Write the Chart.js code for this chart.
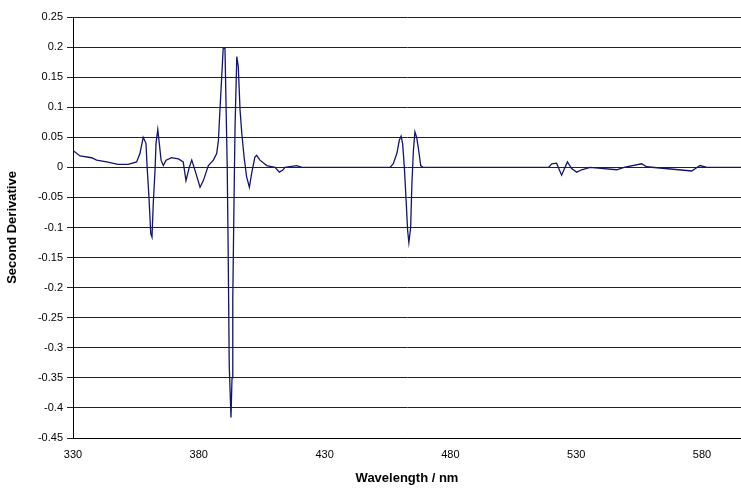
<!DOCTYPE html>
<html>
<head>
<meta charset="utf-8">
<script src="https://cdn.jsdelivr.net/npm/chart.js@4.4.0/dist/chart.umd.min.js"></script>
<style>
  html, body { margin: 0; padding: 0; background: #fff; }
  #wrap { width: 741px; height: 490px; position: relative; }
</style>
</head>
<body>
<div id="wrap"><canvas id="spectrum"></canvas></div>
<script>
// Wavelength (nm) and second derivative values
const wavelengths = [
  330.0, 332.8, 337.4, 339.4, 343.4, 347.9, 351.9, 355.3, 356.6, 357.9,
  359.0, 359.5, 360.2, 360.9, 361.4, 361.9, 362.6, 363.0, 363.7, 364.3,
  365.0, 365.9, 367.0, 369.2, 371.9, 373.8, 374.9, 376.2, 377.2, 378.5,
  380.5, 381.8, 383.8, 385.8, 387.1, 387.8, 388.4, 389.1, 389.7, 390.4,
  390.8, 391.3, 391.7, 392.1, 392.8, 393.2, 393.5, 394.0, 394.4, 395.1,
  395.7, 396.4, 397.1, 398.0, 399.0, 400.1, 401.0, 402.3, 403.0, 404.3,
  407.0, 410.3, 412.0, 413.3, 414.3, 418.9, 421.0, 456.0, 457.3, 458.7,
  459.7, 460.4, 461.0, 461.7, 462.4, 463.0, 463.5, 464.2, 464.7, 465.3,
  465.9, 466.6, 467.4, 468.2, 469.0, 519.0, 520.3, 522.2, 524.2, 526.5,
  528.2, 530.2, 532.2, 535.5, 546.1, 549.0, 556.0, 558.0, 575.9, 579.2,
  582.0, 595.5
];
const secondDerivative = [
  0.028, 0.019, 0.016, 0.012, 0.009, 0.005, 0.005, 0.009, 0.023, 0.050,
  0.040, -0.002, -0.050, -0.110, -0.116, -0.060, -0.005, 0.040, 0.063, 0.040,
  0.012, 0.003, 0.012, 0.016, 0.014, 0.009, -0.022, 0.000, 0.012, -0.005,
  -0.033, -0.022, 0.003, 0.012, 0.023, 0.045, 0.095, 0.150, 0.198, 0.198,
  0.110, 0.000, -0.150, -0.330, -0.416, -0.350, -0.220, -0.055, 0.067, 0.184,
  0.167, 0.095, 0.056, 0.017, -0.016, -0.033, -0.010, 0.017, 0.020, 0.012,
  0.003, 0.000, -0.008, -0.005, 0.000, 0.003, 0.000, 0.000, 0.006, 0.023,
  0.045, 0.052, 0.040, 0.000, -0.055, -0.105, -0.125, -0.100, -0.027, 0.028,
  0.059, 0.050, 0.028, 0.003, 0.000, 0.000, 0.006, 0.007, -0.013, 0.009,
  -0.002, -0.008, -0.004, 0.000, -0.004, 0.000, 0.006, 0.001, -0.006, 0.003,
  0.000, 0.000
];
const xTickValues = [330, 380, 430, 480, 530, 580];
const xMin = 330;
const xMax = 595.5;
const yMin = -0.45;
const yMax = 0.25;
const yStep = 0.05;

const points = wavelengths.map((w, i) => ({ x: w, y: secondDerivative[i] }));

const ctx = document.getElementById('spectrum').getContext('2d');
new Chart(ctx, {
  type: 'line',
  data: {
    datasets: [{
      label: 'Second Derivative',
      data: points,
      borderColor: '#14146e',
      borderWidth: 1.3,
      pointRadius: 0,
      tension: 0,
      fill: false
    }]
  },
  options: {
    responsive: true,
    maintainAspectRatio: false,
    animation: false,
    layout: { padding: { top: 17, right: 0, left: 0, bottom: 0 } },
    plugins: {
      legend: { display: false },
      tooltip: { enabled: false }
    },
    scales: {
      x: {
        type: 'linear',
        min: xMin,
        max: xMax,
        afterBuildTicks: (scale) => {
          scale.ticks = xTickValues.map(v => ({ value: v }));
        },
        afterFit: (scale) => { scale.height = 52; },
        grid: { display: false, drawTicks: false },
        border: { display: true, color: '#000', width: 1 },
        ticks: {
          color: '#000',
          padding: 10,
          maxRotation: 0,
          font: { family: 'Liberation Sans, Arial, sans-serif', size: 11 },
          callback: (v) => String(v)
        },
        title: {
          display: true,
          text: 'Wavelength / nm',
          color: '#000',
          padding: { top: 4, bottom: 4 },
          font: { family: 'Liberation Sans, Arial, sans-serif', size: 13, weight: 'bold' }
        }
      },
      y: {
        min: yMin,
        max: yMax,
        afterFit: (scale) => { scale.width = 73; },
        grid: { color: '#222', lineWidth: 1, tickLength: 6 },
        border: { display: true, color: '#000', width: 1 },
        ticks: {
          stepSize: yStep,
          color: '#000',
          padding: 4,
          font: { family: 'Liberation Sans, Arial, sans-serif', size: 11 },
          callback: (v) => String(Number(v.toFixed(2)))
        },
        title: {
          display: true,
          text: 'Second Derivative',
          color: '#000',
          padding: { top: 5, bottom: 5 },
          font: { family: 'Liberation Sans, Arial, sans-serif', size: 13, weight: 'bold' }
        }
      }
    }
  }
});
</script>
</body>
</html>
